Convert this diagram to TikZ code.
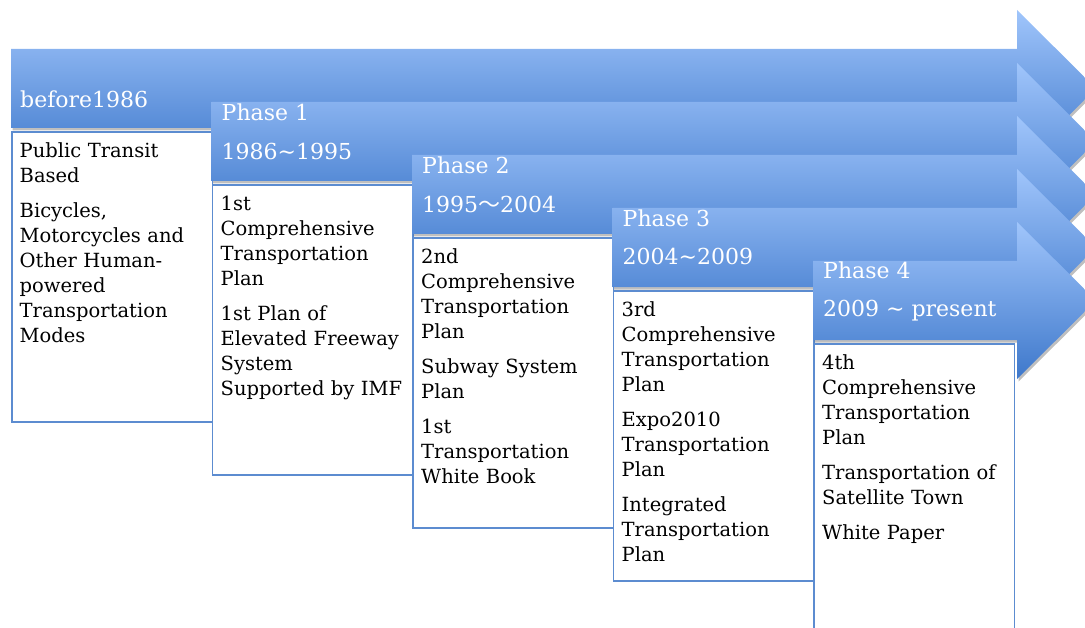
\documentclass[tikz,border=0pt]{standalone}
\usepackage{fontspec}
\setmainfont{DejaVu Serif}
\newfontfamily\cjk{Noto Sans CJK SC}
\definecolor{arrtop}{RGB}{160,197,251}
\definecolor{arrbot}{RGB}{62,120,203}
\definecolor{boxline}{RGB}{92,140,208}
\newcommand\phasearrow[2]{%
  \fill[arrowshadow, shift={(1.5,2.5)}] (#1,#2) -- (1017,#2) -- (1017,#2-39) -- (1096,#2+39.5) -- (1017,#2+118) -- (1017,#2+79) -- (#1,#2+79) -- cycle;
  \shade[arrowfill] (#1,#2) -- (1017,#2) -- (1017,#2-39) -- (1096,#2+39.5) -- (1017,#2+118) -- (1017,#2+79) -- (#1,#2+79) -- cycle;}
\begin{document}
\begin{tikzpicture}[x=1bp,y=-1bp,
  hdr/.style={text=white, font=\fontsize{22bp}{26bp}\selectfont, anchor=base west, inner sep=0pt},
  body/.style={font=\fontsize{19.5bp}{25bp}\selectfont, anchor=north west, inner sep=0pt, text width=230bp, align=left},
  card/.style={draw=boxline, line width=1.8bp, fill=white, anchor=north west, inner sep=0pt, minimum width=200.5bp, minimum height=290bp},
  arrowfill/.style={top color=arrtop, bottom color=arrbot, draw=none},
  arrowshadow/.style={fill=black, fill opacity=0.25, draw=none}]
\useasboundingbox (0,0) rectangle (1085,628);
\clip (0,0) rectangle (1085,628);

% before 1986
\phasearrow{11}{49}
\node[card] (box0) at (11,131) {};
\node[hdr] (h0) at (20,108) {before1986};
\node[body] (t0) at (19.5,138) {\rule{0pt}{19bp}Public Transit\\Based\\[10bp]Bicycles,\\Motorcycles and\\Other Human-\\powered\\Transportation\\Modes};

% phase 1
\phasearrow{211.5}{102}
\node[card] (box1) at (211.5,184) {};
\node[hdr] (p1) at (221.5,121) {Phase 1};
\node[hdr] (d1) at (221.5,160) {1986\textasciitilde1995};
\node[body] (t1) at (220.5,191) {\rule{0pt}{19bp}1st\\Comprehensive\\Transportation\\Plan\\[10bp]1st Plan of\\Elevated Freeway\\System\\Supported by IMF};

% phase 2
\phasearrow{412}{155}
\node[card] (box2) at (412,237) {};
\node[hdr] (p2) at (422,174) {Phase 2};
\node[hdr] (d2) at (422,213) {1995{\cjk ～}2004};
\node[body] (t2) at (421,244) {\rule{0pt}{19bp}2nd\\Comprehensive\\Transportation\\Plan\\[10bp]Subway System\\Plan\\[10bp]1st\\Transportation\\White Book};

% phase 3
\phasearrow{612.5}{208}
\node[card] (box3) at (612.5,290) {};
\node[hdr] (p3) at (622.5,227) {Phase 3};
\node[hdr] (d3) at (622.5,265) {2004\textasciitilde2009};
\node[body] (t3) at (621.5,297) {\rule{0pt}{19bp}3rd\\Comprehensive\\Transportation\\Plan\\[10bp]Expo2010\\Transportation\\Plan\\[10bp]Integrated\\Transportation\\Plan};

% phase 4
\phasearrow{813}{261}
\node[card] (box4) at (813,343) {};
\node[hdr] (p4) at (823,279) {Phase 4};
\node[hdr] (d4) at (823,317) {2009 \textasciitilde{} present};
\node[body] (t4) at (822,350) {\rule{0pt}{19bp}4th\\Comprehensive\\Transportation\\Plan\\[10bp]Transportation of\\Satellite Town\\[10bp]White Paper};
\end{tikzpicture}
\end{document}
